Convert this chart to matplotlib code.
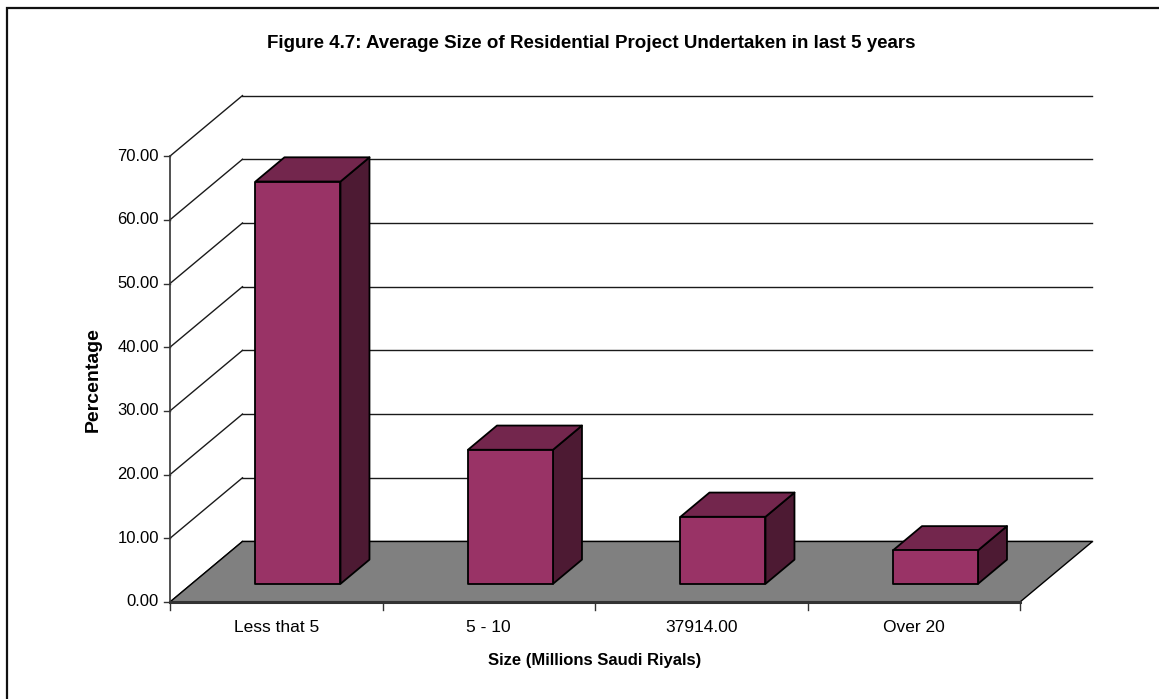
import matplotlib
matplotlib.use("Agg")
import matplotlib.pyplot as plt
from matplotlib.patches import Polygon, Rectangle

plt.rcParams['font.family'] = ['Liberation Sans', 'DejaVu Sans']

# ---- data ----
categories = ["Less that 5", "5 - 10", "37914.00", "Over 20"]
values = [63.16, 21.05, 10.53, 5.26]
y_ticks = [0, 10, 20, 30, 40, 50, 60, 70]
y_tick_labels = [f"{v:.2f}" for v in y_ticks]
title = "Figure 4.7: Average Size of Residential Project Undertaken in last 5 years"
x_title = "Size (Millions Saudi Riyals)"
y_title = "Percentage"

# ---- style / geometry ----
W, H = 1159, 699
DX, DY = 0.341, 9.5          # oblique depth offset (category units, value units)
BAR_W0, BAR_W1 = 0.3, 0.7    # bar extent within category
D0, D1 = 0.3, 0.7            # bar extent in depth
FRONT, TOP, SIDE = "#993366", "#73264D", "#4D1A33"
FLOOR = "#808080"

fig = plt.figure(figsize=(W / 100, H / 100), dpi=100)
ax = fig.add_axes([0, 0, 1, 1])
px_x = 212.5
px_y = 6.37
ax.set_xlim(-170 / px_x, (W - 170) / px_x)
ax.set_ylim((602 - H) / px_y, 602 / px_y)
ax.axis("off")

n = len(categories)
ymax = y_ticks[-1]

# back wall + side wall gridlines
for v in y_ticks:
    ax.plot([DX, n + DX], [v + DY, v + DY], color="#1a1a1a", lw=1.0, zorder=1)
    ax.plot([0, DX], [v, v + DY], color="#1a1a1a", lw=1.0, zorder=1)

# floor
floor = Polygon([(0, 0), (n, 0), (n + DX, DY), (DX, DY)], closed=True,
                facecolor=FLOOR, edgecolor="#000000", lw=1.0, zorder=2)
ax.add_patch(floor)
ax.plot([0, n], [0, 0], color="#333333", lw=2.2, zorder=2.5)

# bars
def P(x, y, d):
    return (x + d * DX, y + d * DY)

for i, v in enumerate(values):
    x0, x1 = i + BAR_W0, i + BAR_W1
    front = [P(x0, 0, D0), P(x1, 0, D0), P(x1, v, D0), P(x0, v, D0)]
    top = [P(x0, v, D0), P(x1, v, D0), P(x1, v, D1), P(x0, v, D1)]
    side = [P(x1, 0, D0), P(x1, 0, D1), P(x1, v, D1), P(x1, v, D0)]
    for pts, c in ((side, SIDE), (top, TOP), (front, FRONT)):
        ax.add_patch(Polygon(pts, closed=True, facecolor=c, edgecolor="black",
                             lw=1.3, joinstyle="round", zorder=3 + i * 0.1))

# value axis line + ticks
ax.plot([0, 0], [0, ymax], color="#333333", lw=1.2, zorder=4)
tick_len_x = 6 / px_x
for v, lab in zip(y_ticks, y_tick_labels):
    ax.plot([-tick_len_x, 0], [v, v], color="#333333", lw=1.0, zorder=4)
    ax.text(-11 / px_x, v, lab, ha="right", va="center", fontsize=12, color="black")

# category ticks + labels
tick_len_y = 8 / px_y
for k in range(n + 1):
    ax.plot([k, k], [0, -tick_len_y], color="#333333", lw=1.0, zorder=4)
for i, c in enumerate(categories):
    ax.text(i + 0.5, (602 - 628) / px_y, c, ha="center", va="center", fontsize=12.5)

# axis titles
ax.text(2.0, (602 - 661) / px_y, x_title, ha="center", va="center",
        fontsize=12, fontweight="bold")
ax.text((93 - 170) / px_x, (602 - 380) / px_y, y_title, ha="center", va="center",
        rotation=90, fontsize=14, fontweight="bold")

# title
fig.text(591 / W, 1 - 44 / H, title, ha="center", va="center",
         fontsize=13.5, fontweight="bold")

# outer chart border
fig.add_artist(Rectangle((7 / W, -0.1), 2.0, 1 - 8 / H + 0.1, transform=fig.transFigure,
                         fill=False, edgecolor="#111111", lw=1.6))

fig.savefig("out.png", dpi=100)
